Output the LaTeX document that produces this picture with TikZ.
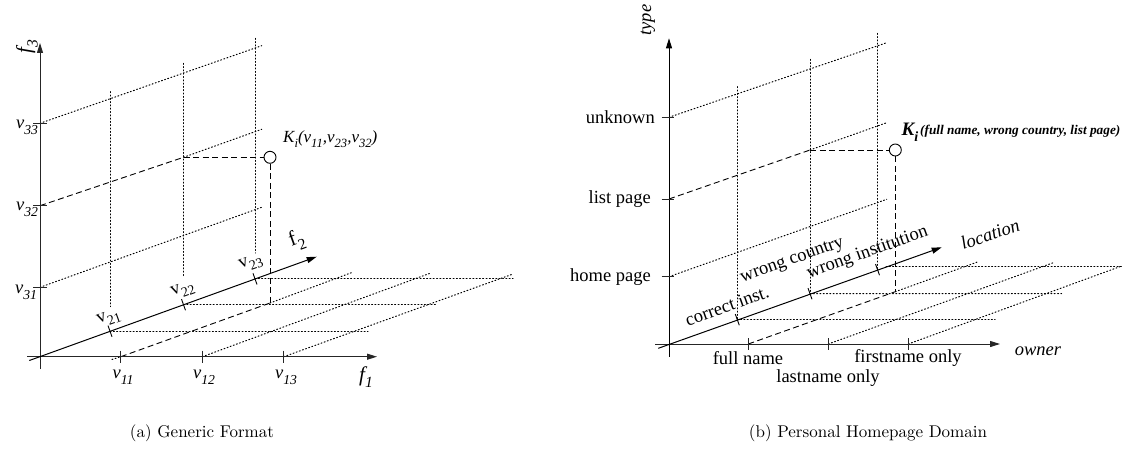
\documentclass[tikz,border=0pt]{standalone}
\usepackage{graphicx}
\usepackage{fontspec}
\newfontfamily\tms{Liberation Serif}
\usetikzlibrary{arrows.meta,calc}
% lowered, reduced subscript in the style of the axis labels
\newcommand\lowsub[1]{\raisebox{-0.32em}{\scalebox{0.74}{#1}}}
\tikzset{
  axisline/.style={line width=1pt, black!85, -{Triangle[length=10pt,width=6pt]}},
  tickmark/.style={line width=0.9pt, black!85},
  dotline/.style={line width=1pt, dash pattern=on 1pt off 2.3pt, line cap=round},
  dashline/.style={line width=0.9pt, dash pattern=on 6pt off 3.5pt},
  lbl/.style={inner sep=0pt, font=\tms\fontsize{18.5}{22}\selectfont},
  lblk/.style={inner sep=0pt, font=\tms\fontsize{17}{20}\selectfont},
  lblf/.style={inner sep=0pt, font=\tms\fontsize{21}{24}\selectfont},
  lblb/.style={inner sep=0pt, font=\tms\fontsize{18.5}{22}\selectfont},
  captext/.style={inner sep=0pt, font=\normalsize, scale=1.7},
  pointmark/.style={circle, draw, line width=0.9pt, minimum size=12pt, inner sep=0pt},
}
\begin{document}
\begin{tikzpicture}[x=1pt, y=-1pt]
\useasboundingbox (0,0) rectangle (1124,460);

% ---------------- (a) generic format ----------------
\coordinate (aO) at (39.3,356.7);
\coordinate (a3s) at (40,369);   \coordinate (a3e) at (40,43);
\coordinate (a1s) at (27,356.7); \coordinate (a1e) at (377,356.7);
\coordinate (a2s) at (29.3,360.5); \coordinate (a2e) at (316.7,256.7);
\coordinate (p11) at (120.8,356.7);
\coordinate (p12) at (202.3,356.7);
\coordinate (p13) at (283.8,356.7);
\coordinate (p21) at (110,331.2);
\coordinate (p22) at (183.5,304.7);
\coordinate (p23) at (255,278.9);
\coordinate (p31) at (40,287.3);
\coordinate (p32) at (40,205.7);
\coordinate (p33) at (40,123.3);

% wall grid (f2-f3 plane)
\coordinate (w1t) at (110,91.7);   \coordinate (w1b) at (110,306.7);
\coordinate (w2t) at (183.5,63.3); \coordinate (w2b) at (183.5,276);
\coordinate (w3t) at (255,38.3);   \coordinate (w3b) at (255,253);
\draw[dotline] (w1t) -- (w1b);
\draw[dotline] (w2t) -- (w2b);
\draw[dotline] (w3t) -- (w3b);
\coordinate (s33) at (261.7,45.7);
\coordinate (s32) at (261.7,129.3);
\coordinate (s31) at (261.7,207.3);
\coordinate (c32) at (183.5,157.3);
\draw[dotline] (p33) -- (s33);
\draw[dashline] (p32) -- (c32);
\draw[dotline] (c32) -- (s32);
\draw[dotline] (p31) -- (s31);

% floor grid (f1-f2 plane)
\coordinate (kb) at (270,303);
\coordinate (tail) at (112,359.5);
\coordinate (e11) at (353.3,272);
\coordinate (e12) at (430,273.3);
\coordinate (e13) at (513,274);
\draw[dotline] (tail) -- (p11);
\draw[dashline] (p11) -- (kb);
\draw[dotline] (kb) -- (e11);
\draw[dotline] (p12) -- (e12);
\draw[dotline] (p13) -- (e13);
\coordinate (h21) at (368,331.2);
\coordinate (h22) at (436.7,304.7);
\coordinate (h23) at (513,278.9);
\draw[dotline] (p21) -- (h21);
\draw[dotline] (p22) -- (h22);
\draw[dotline] (p23) -- (h23);

% the point K_i
\node[pointmark] (Ka) at (270,157.3) {};
\draw[dashline] (c32) -- (Ka.west);
\draw[dashline] (Ka.south) -- (kb);

% axes
\draw[axisline] (a3s) -- (a3e);
\draw[axisline] (a1s) -- (a1e);
\draw[axisline, black] (a2s) -- (a2e);
\foreach \p in {p11,p12,p13} \draw[tickmark] ($(\p)+(0,-6)$) -- ($(\p)+(0,6)$);
\foreach \p in {p21,p22,p23} \draw[tickmark, black] ($(\p)+(-2,-5.6)$) -- ($(\p)+(2,5.6)$);
\foreach \p in {p31,p32,p33} \draw[tickmark] ($(\p)+(-7,0)$) -- ($(\p)+(6.7,0)$);

% labels
\node[lblf, rotate=90] (lf3) at (27,47) {\itshape f\lowsub{3}};
\node[lbl] (lv33) at (27,127) {\itshape v\lowsub{33}};
\node[lbl] (lv32) at (27,209) {\itshape v\lowsub{32}};
\node[lbl] (lv31) at (26,292) {\itshape v\lowsub{31}};
\node[lbl] (lv11) at (123,377) {\itshape v\lowsub{11}};
\node[lbl] (lv12) at (204,377) {\itshape v\lowsub{12}};
\node[lbl] (lv13) at (286,377) {\itshape v\lowsub{13}};
\node[lblf] (lf1) at (366,377) {\itshape f\lowsub{1}};
\node[lbl, rotate=20] (lv21) at (109,318) {v\lowsub{21}};
\node[lbl, rotate=20] (lv22) at (183,290) {v\lowsub{22}};
\node[lbl, rotate=20] (lv23) at (251,263) {v\lowsub{23}};
\node[lblf, rotate=20] (lf2) at (297,240) {f\lowsub{2}};
\node[lblk, anchor=west] (lKa) at (283,139)
  {\itshape K\lowsub{i}(v\lowsub{11},v\lowsub{23},v\lowsub{32})};

\node[captext] (capa) at (202,433) {(a) Generic Format};

% ---------------- (b) personal homepage domain ----------------
\coordinate (bO) at (669,344);
\coordinate (b3s) at (669,356.7); \coordinate (b3e) at (669,38.3);
\coordinate (b1s) at (655,344);   \coordinate (b1e) at (1000,344);
\coordinate (b2s) at (658.3,348.3); \coordinate (b2e) at (941.7,247.3);
\coordinate (q11) at (748.3,344);
\coordinate (q12) at (828.3,344);
\coordinate (q13) at (908.3,344);
\coordinate (q21) at (737.3,319.7);
\coordinate (q22) at (810,293.7);
\coordinate (q23) at (877.5,269.6);
\coordinate (q31) at (669,276.7);
\coordinate (q32) at (669,199);
\coordinate (q33) at (669,117.3);

% wall grid
\coordinate (v1t) at (737.3,86.7);
\coordinate (v2t) at (810,59.3);
\coordinate (v3t) at (877.5,33.3);
\draw[dotline] (v1t) -- (q21);
\draw[dotline] (v2t) -- (q22);
\draw[dotline] (v3t) -- (q23);
\coordinate (t33) at (886.7,42.7);
\coordinate (t32) at (886.7,122.7);
\coordinate (t31) at (886.7,199.3);
\coordinate (d32) at (810,150);
\draw[dotline] (q33) -- (t33);
\draw[dashline] (q32) -- (d32);
\draw[dotline] (d32) -- (t32);
\draw[dotline] (q31) -- (t31);

% floor grid
\coordinate (kbb) at (895.3,291.7);
\coordinate (g11) at (978.3,261.7);
\coordinate (g12) at (1053.3,262.7);
\coordinate (g13) at (1121.7,266);
\draw[dashline] (q11) -- (kbb);
\draw[dotline] (kbb) -- (g11);
\draw[dotline] (q12) -- (g12);
\draw[dotline] (q13) -- (g13);
\coordinate (r3s) at (886,266.7);
\coordinate (r1e) at (995,319.7);
\coordinate (r2e) at (1061.7,293.5);
\coordinate (r3e) at (1123,266.7);
\draw[dotline] (q21) -- (r1e);
\draw[dotline] (q22) -- (r2e);
\draw[dotline] (r3s) -- (r3e);

% the point K_i
\node[pointmark] (Kb) at (895.3,150) {};
\draw[dashline] (d32) -- (Kb.west);
\draw[dashline] (Kb.south) -- (kbb);

% axes
\draw[axisline, black] (b3s) -- (b3e);
\draw[axisline] (b1s) -- (b1e);
\draw[axisline, black] (b2s) -- (b2e);
\foreach \p in {q11,q12,q13} \draw[tickmark] ($(\p)+(0,-6)$) -- ($(\p)+(0,6)$);
\foreach \p in {q21,q22,q23} \draw[tickmark, black] ($(\p)+(-2,-5.6)$) -- ($(\p)+(2,5.6)$);
\foreach \p in {q31,q32,q33} \draw[tickmark] ($(\p)+(-7.3,0)$) -- ($(\p)+(5,0)$);

% labels
\node[lblb, rotate=90] (ltype) at (648,20) {\itshape type};
\node[lblb, anchor=east] (lunk) at (655,117.3) {unknown};
\node[lblb, anchor=east] (llist) at (651,199) {list page};
\node[lblb, anchor=east] (lhome) at (651,277) {home page};
\node[lblb] (lowner) at (1038,351) {\itshape owner};
\node[lblb, rotate=19] (lloc) at (990,234) {\itshape location};
\node[lblb] (lfull) at (748,358) {full name};
\node[lblb] (lfirst) at (908,358) {firstname only};
\node[lblb] (llast) at (828,378) {lastname only};
\node[lblb, rotate=19.5] (lcorr) at (727,306) {correct inst.};
\node[lblb, rotate=19.5] (lwc) at (792.5,261) {wrong country};
\node[lblb, rotate=19.5] (lwi) at (867.5,253) {wrong institution};
\node[inner sep=0pt, font=\tms\bfseries\itshape\fontsize{19}{22}\selectfont] (lKb) at (910,132)
  {K\lowsub{i}};
\node[inner sep=0pt, anchor=west, font=\tms\bfseries\itshape\fontsize{13.3}{16}\selectfont] (lKbt) at (920,131.7)
  {(full name, wrong country, list page)};

\node[captext] (capb) at (868,433) {(b) Personal Homepage Domain};
\end{tikzpicture}
\end{document}
